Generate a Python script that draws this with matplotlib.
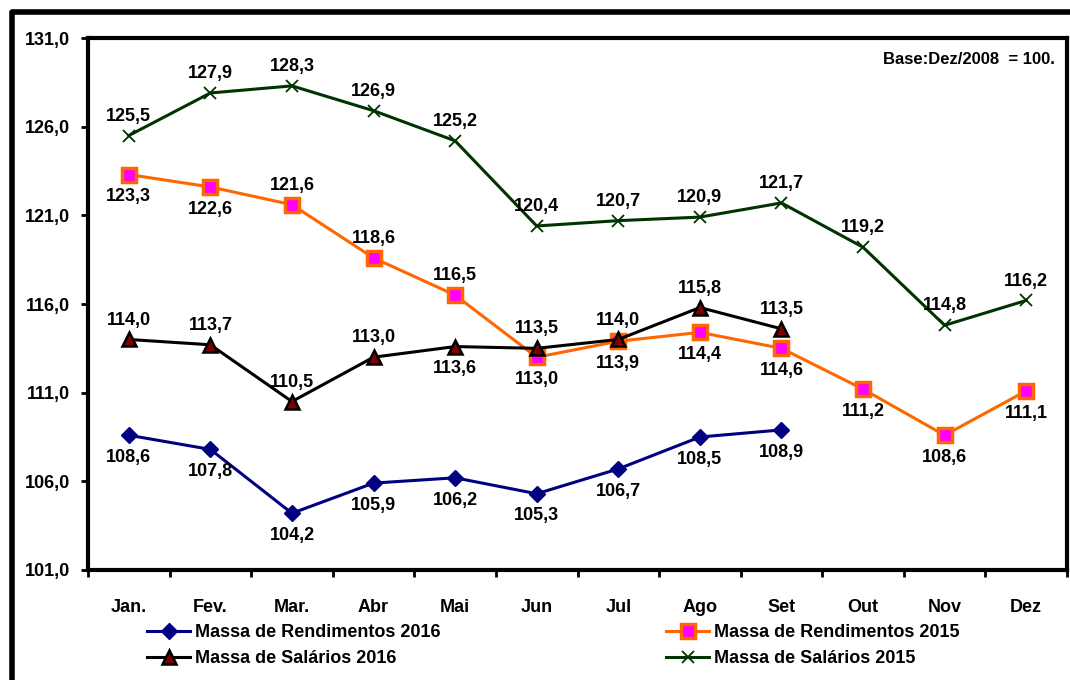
import matplotlib
matplotlib.use("Agg")
import matplotlib.pyplot as plt
from matplotlib.lines import Line2D
from matplotlib.ticker import FixedLocator, NullFormatter

plt.rcParams['font.family'] = ['Liberation Sans', 'DejaVu Sans']
plt.rcParams['font.weight'] = 'bold'

months = ["Jan.", "Fev.", "Mar.", "Abr", "Mai", "Jun", "Jul", "Ago", "Set", "Out", "Nov", "Dez"]

rend_2016 = [108.6, 107.8, 104.2, 105.9, 106.2, 105.3, 106.7, 108.5, 108.9]
rend_2016_labels = ["108,6", "107,8", "104,2", "105,9", "106,2", "105,3", "106,7", "108,5", "108,9"]
rend_2016_pos = ["b"] * 9

rend_2015 = [123.3, 122.6, 121.6, 118.6, 116.5, 113.0, 113.9, 114.4, 113.5, 111.2, 108.6, 111.1]
rend_2015_labels = ["123,3", "122,6", "121,6", "118,6", "116,5", "113,0", "113,9", "114,4", "114,6", "111,2", "108,6", "111,1"]
rend_2015_pos = ["b", "b", "a", "a", "a", "b", "b", "b", "b", "b", "b", "b"]

sal_2016 = [114.0, 113.7, 110.5, 113.0, 113.6, 113.5, 114.0, 115.8, 114.6]
sal_2016_labels = ["114,0", "113,7", "110,5", "113,0", "113,6", "113,5", "114,0", "115,8", "113,5"]
sal_2016_pos = ["a", "a", "a", "a", "b", "a", "a", "a", "a"]

sal_2015 = [125.5, 127.9, 128.3, 126.9, 125.2, 120.4, 120.7, 120.9, 121.7, 119.2, 114.8, 116.2]
sal_2015_labels = ["125,5", "127,9", "128,3", "126,9", "125,2", "120,4", "120,7", "120,9", "121,7", "119,2", "114,8", "116,2"]
sal_2015_pos = ["a"] * 12

yticks = [101, 106, 111, 116, 121, 126, 131]
ytick_labels = ["101,0", "106,0", "111,0", "116,0", "121,0", "126,0", "131,0"]

fig = plt.figure(figsize=(10.7, 6.8), dpi=100)
ax = fig.add_axes([88 / 1070, 1 - 570 / 680, (1067 - 88) / 1070, (570 - 38) / 680])

FS = 13

h1, = ax.plot(range(len(rend_2016)), rend_2016, color="#000080", lw=2.2, marker="D",
              markersize=8, markerfacecolor="#000080", markeredgecolor="#000080",
              label="Massa de Rendimentos 2016", zorder=3)
h2, = ax.plot(range(len(rend_2015)), rend_2015, color="#FF6600", lw=2.2, marker="s",
              markersize=10, markerfacecolor="#FF00FF", markeredgecolor="#FF6600", markeredgewidth=2.5,
              label="Massa de Rendimentos 2015", zorder=3)
h3, = ax.plot(range(len(sal_2016)), sal_2016, color="black", lw=2.2, marker="^",
              markersize=10, markerfacecolor="#800000", markeredgecolor="black", markeredgewidth=1.8,
              label="Massa de Salários 2016", zorder=4)
h4, = ax.plot(range(len(sal_2015)), sal_2015, color="#003300", lw=2.2, marker="x",
              markersize=9, markeredgecolor="#003300", markeredgewidth=1.3,
              label="Massa de Salários 2015", zorder=3)

def label_series(vals, labels, pos):
    for i, (v, t, p) in enumerate(zip(vals, labels, pos)):
        dy = 14 if p == "a" else -16
        ax.annotate(t, (i, v), xytext=(0, dy), textcoords="offset points",
                    ha="center", va="center", fontsize=FS, fontweight="bold", zorder=5)

label_series(rend_2016, rend_2016_labels, rend_2016_pos)
label_series(rend_2015, rend_2015_labels, rend_2015_pos)
label_series(sal_2016, sal_2016_labels, sal_2016_pos)
label_series(sal_2015, sal_2015_labels, sal_2015_pos)

ax.set_xlim(-0.5, 11.5)
ax.set_ylim(101, 131)
ax.set_yticks(yticks)
ax.set_yticklabels(ytick_labels, fontsize=FS, fontweight="bold")
ax.set_xticks(range(12))
ax.set_xticklabels(months, fontsize=FS, fontweight="bold")
ax.xaxis.set_minor_locator(FixedLocator([i - 0.5 for i in range(13)]))
ax.xaxis.set_minor_formatter(NullFormatter())
ax.tick_params(axis="x", which="major", length=0, pad=21)
ax.tick_params(axis="x", which="minor", length=5, width=2, direction="out")
ax.tick_params(axis="y", length=5, width=2, direction="out", pad=8)
for s in ax.spines.values():
    s.set_linewidth(3)

ax.text(0.988, 0.96, "Base:Dez/2008  = 100.", transform=ax.transAxes, ha="right", va="center",
        fontsize=12, fontweight="bold")

fig.legend(handles=[h1, h3, h2, h4], ncol=2, loc="upper left",
           bbox_to_anchor=(147 / 1070, 1 - 624 / 680), frameon=False,
           prop={"size": FS, "weight": "bold"}, handlelength=2.4, handletextpad=0.25,
           columnspacing=12.5, labelspacing=0.5, borderpad=0, borderaxespad=0)

# outer frame (left and top visible)
W, H = 1070, 680
fig.add_artist(Line2D([12 / W, 12 / W, 1.0], [0.0, 1 - 12 / H, 1 - 12 / H],
                      transform=fig.transFigure, color="black", lw=4, solid_capstyle="projecting"))

fig.savefig("out.png", dpi=100)
